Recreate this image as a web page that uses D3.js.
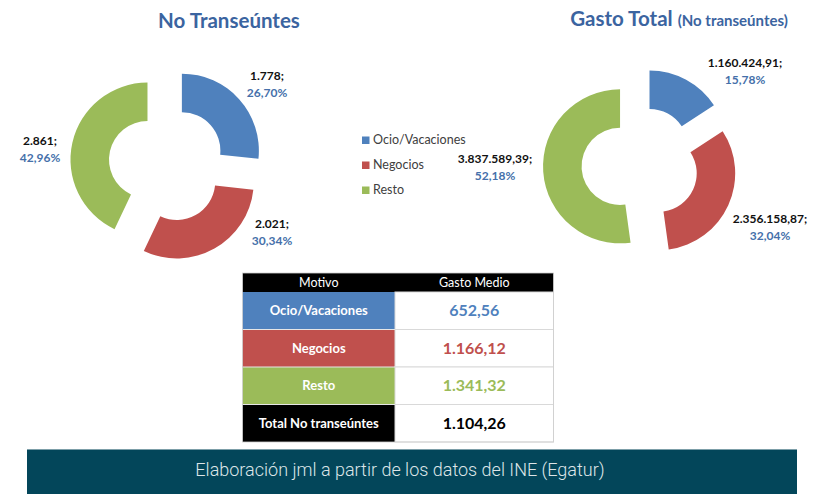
<!DOCTYPE html>
<html>
<head>
<meta charset="utf-8">
<script src="https://cdn.jsdelivr.net/npm/d3@7"></script>
<style>
  html, body { margin: 0; padding: 0; background: #ffffff; }
  svg { display: block; font-family: Lato, "Open Sans", sans-serif; }
</style>
</head>
<body>
<div id="chart"></div>
<script>
// datos
const categorias = ["Ocio/Vacaciones", "Negocios", "Resto"];
const noTranseuntes = [1778, 2021, 2861];
const pctNoTranseuntes = [26.70, 30.34, 42.96];
const gastoTotal = [1160424.91, 2356158.87, 3837589.39];
const pctGastoTotal = [15.78, 32.04, 52.18];
const gastoMedio = [652.56, 1166.12, 1341.32];
const totalEtiqueta = "Total No transeúntes";
const totalGastoMedio = 1104.26;
const cabecera = ["Motivo", "Gasto Medio"];

const colores = ["#4f81bd", "#c0504d", "#9bbb59"];
const azulTitulo = "#3b64a0";
const azulPct = "#4570aa";

const es = d3.formatLocale({decimal: ",", thousands: ".", grouping: [3], currency: ["", " €"]});
const fmt0 = es.format(",.0f");
const fmt2 = es.format(",.2f");

const width = 821, height = 494;
const svg = d3.select("#chart").append("svg")
  .attr("width", width)
  .attr("height", height);

const R = 77, r = 38.5, explode = 20;

// posiciones de las etiquetas respecto al centro de cada anillo
const etiqLeft = [[100, -88], [105, 60], [-127, -23]];
const etiqRight = [[105, -102], [130, 54], [-145, -6]];

function donut(cx, cy, values, pcts, fmt, etiq) {
  let pie = d3.pie().sort(null).value(d => d);
  let arcs = pie(values);
  let arc = d3.arc().innerRadius(r).outerRadius(R);

  let g = svg.append("g").attr("transform", `translate(${cx},${cy})`);

  g.selectAll("path.slice")
    .data(arcs)
    .enter()
    .append("path")
    .attr("class", "slice")
    .attr("transform", d => {
      let a = (d.startAngle + d.endAngle) / 2;
      return `translate(${Math.sin(a) * explode},${-Math.cos(a) * explode})`;
    })
    .attr("d", arc)
    .style("fill", (d, i) => colores[i]);

  let labels = g.selectAll("g.lbl")
    .data(arcs)
    .enter()
    .append("g")
    .attr("class", "lbl")
    .attr("transform", (d, i) => `translate(${etiq[i][0]},${etiq[i][1]})`);

  labels.append("text")
    .attr("text-anchor", "middle")
    .attr("dy", "0.35em")
    .style("font-size", "12px")
    .style("font-weight", "bold")
    .style("fill", "#111")
    .text(d => fmt(d.data) + ";");

  labels.append("text")
    .attr("text-anchor", "middle")
    .attr("y", 16.5)
    .attr("dy", "0.35em")
    .style("font-size", "12px")
    .style("font-weight", "bold")
    .style("fill", azulPct)
    .text((d, i) => fmt2(pcts[i]) + "%");
}

donut(167, 164, noTranseuntes, pctNoTranseuntes, fmt0, etiqLeft);
donut(640, 165, gastoTotal, pctGastoTotal, fmt2, etiqRight);

// titulos
svg.append("text")
  .attr("x", 229)
  .attr("y", 21)
  .attr("dy", "0.35em")
  .attr("text-anchor", "middle")
  .style("font-size", "20.5px")
  .style("font-weight", "bold")
  .style("fill", azulTitulo)
  .text("No Transeúntes");

let t2 = svg.append("text")
  .attr("x", 679)
  .attr("y", 20)
  .attr("dy", "0.35em")
  .attr("text-anchor", "middle")
  .style("font-weight", "bold")
  .style("fill", azulTitulo);
t2.append("tspan").style("font-size", "20.5px").text("Gasto Total ");
t2.append("tspan").style("font-size", "15px").text("(No transeúntes)");

// leyenda
let legend = svg.selectAll("g.legend")
  .data(categorias)
  .enter()
  .append("g")
  .attr("class", "legend")
  .attr("transform", (d, i) => `translate(362,${140 + i * 25})`);

legend.append("rect")
  .attr("x", 0)
  .attr("y", -3.5)
  .attr("width", 7.5)
  .attr("height", 7.5)
  .style("fill", (d, i) => colores[i]);

legend.append("text")
  .attr("x", 11)
  .attr("dy", "0.35em")
  .style("font-size", "12.5px")
  .style("fill", "#404040")
  .text(d => d);

// tabla
const tabla = categorias.map((c, i) => ({motivo: c, valor: gastoMedio[i], color: colores[i], fondo: colores[i]}))
  .concat([{motivo: totalEtiqueta, valor: totalGastoMedio, color: "#000", fondo: "#000"}]);

const tx0 = 242.5, tx1 = 395, tx2 = 553.5;
const ty0 = 273, headH = 19, rowH = 37.5;

let y = d3.scaleBand()
  .domain(d3.range(tabla.length))
  .range([ty0 + headH, ty0 + headH + rowH * tabla.length]);

svg.append("rect")
  .attr("x", tx0)
  .attr("y", ty0)
  .attr("width", tx2 - tx0)
  .attr("height", headH)
  .style("fill", "#000");

svg.selectAll("text.head")
  .data(cabecera)
  .enter()
  .append("text")
  .attr("class", "head")
  .attr("x", (d, i) => i == 0 ? (tx0 + tx1) / 2 : (tx1 + tx2) / 2)
  .attr("y", ty0 + headH / 2)
  .attr("dy", "0.35em")
  .attr("text-anchor", "middle")
  .style("font-size", "12.5px")
  .style("fill", "#fff")
  .text(d => d);

let rows = svg.selectAll("g.row")
  .data(tabla)
  .enter()
  .append("g")
  .attr("class", "row")
  .attr("transform", (d, i) => `translate(0,${y(i)})`);

rows.append("rect")
  .attr("x", tx0)
  .attr("width", tx1 - tx0)
  .attr("height", y.bandwidth())
  .style("fill", d => d.fondo);

rows.append("rect")
  .attr("x", tx1)
  .attr("width", tx2 - tx1)
  .attr("height", y.bandwidth())
  .style("fill", "#fff")
  .style("stroke", "#d9d9d9")
  .style("stroke-width", 1);

rows.append("line")
  .attr("x1", tx0)
  .attr("x2", tx1)
  .attr("y1", 0)
  .attr("y2", 0)
  .style("stroke", "#e6e6e6")
  .style("stroke-width", (d, i) => i == 0 ? 0 : 1);

rows.append("text")
  .attr("x", (tx0 + tx1) / 2)
  .attr("y", y.bandwidth() / 2)
  .attr("dy", "0.35em")
  .attr("text-anchor", "middle")
  .style("font-size", "13px")
  .style("font-weight", "bold")
  .style("fill", "#fff")
  .text(d => d.motivo);

rows.append("text")
  .attr("x", (tx1 + tx2) / 2)
  .attr("y", y.bandwidth() / 2)
  .attr("dy", "0.35em")
  .attr("text-anchor", "middle")
  .style("font-size", "16px")
  .style("font-weight", "bold")
  .style("fill", d => d.color)
  .text(d => fmt2(d.valor));

// borde exterior de la tabla
svg.append("rect")
  .attr("x", tx0)
  .attr("y", ty0)
  .attr("width", tx2 - tx0)
  .attr("height", headH + rowH * tabla.length)
  .style("fill", "none")
  .style("stroke", "#cfcfcf")
  .style("stroke-width", 0.8);

// pie de fuente
svg.append("rect")
  .attr("x", 27)
  .attr("y", 449)
  .attr("width", 770)
  .attr("height", height - 449)
  .style("fill", "#03465a");

svg.append("line")
  .attr("x1", 27)
  .attr("x2", 797)
  .attr("y1", 449.5)
  .attr("y2", 449.5)
  .style("stroke", "#7c9ea8")
  .style("stroke-width", 1);

svg.append("text")
  .attr("x", 400)
  .attr("y", 470)
  .attr("dy", "0.35em")
  .attr("text-anchor", "middle")
  .style("font-family", "Roboto, sans-serif")
  .style("font-weight", 300)
  .style("font-size", "18px")
  .style("fill", "#dde5e8")
  .text("Elaboración jml a partir de los datos del INE (Egatur)");
</script>
</body>
</html>
